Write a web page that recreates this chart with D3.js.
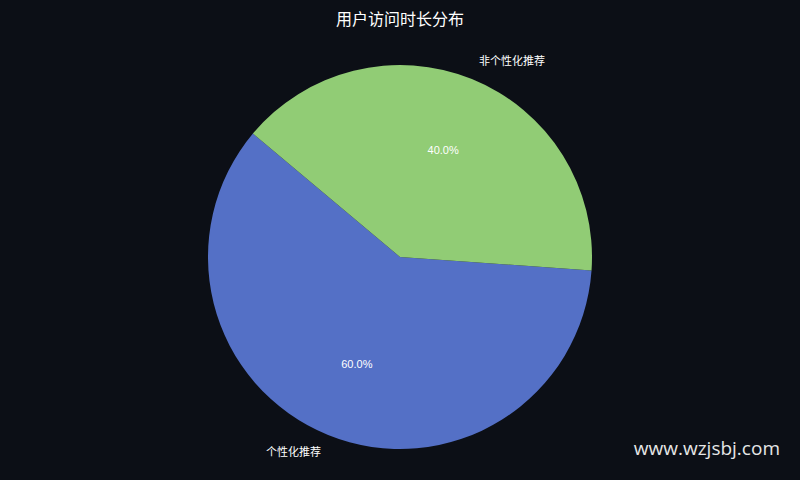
<!DOCTYPE html>
<html>
<head>
<meta charset="utf-8">
<script src="https://cdn.jsdelivr.net/npm/d3@7"></script>
<style>
  html, body { margin: 0; padding: 0; background: #0c0f16; }
  svg { display: block; }
</style>
</head>
<body>
<div class="chart"></div>
<script>
const categories = ["个性化推荐", "非个性化推荐"];
const values = [60, 40];
const colors = ["#5470c6", "#91cc75"];
const title = "用户访问时长分布";

const w = 800;
const h = 480;
const cx = 400;
const cy = 257;
const radius = 192;

const svg = d3
  .select(".chart")
  .append("svg")
  .attr("width", w)
  .attr("height", h);

svg
  .append("rect")
  .attr("width", w)
  .attr("height", h)
  .attr("fill", "#0c0f16");

svg
  .append("text")
  .attr("x", w / 2)
  .attr("y", 18)
  .attr("text-anchor", "middle")
  .attr("dominant-baseline", "central")
  .attr("fill", "#ffffff")
  .style("font-family", "'Noto Sans CJK SC', sans-serif")
  .style("font-size", "16px")
  .text(title);

// start at 140deg and go counter-clockwise (matplotlib style)
const startDeg = 90 - 140;
const pie = d3
  .pie()
  .sort(null)
  .value((d) => d)
  .startAngle((startDeg * Math.PI) / 180)
  .endAngle(((startDeg - 360) * Math.PI) / 180);

const arcs = pie(values);
const arc = d3.arc().innerRadius(0).outerRadius(radius);

const g = svg.append("g").attr("transform", "translate(" + cx + "," + cy + ")");

g.selectAll("path")
  .data(arcs)
  .enter()
  .append("path")
  .attr("d", arc)
  .attr("fill", (d, i) => colors[i]);

const total = d3.sum(values);

function midPoint(d, r) {
  const a = (d.startAngle + d.endAngle) / 2;
  return [Math.sin(a) * r, -Math.cos(a) * r];
}

g.selectAll("text.pct")
  .data(arcs)
  .enter()
  .append("text")
  .attr("class", "pct")
  .attr("x", (d) => midPoint(d, radius * 0.6)[0])
  .attr("y", (d) => midPoint(d, radius * 0.6)[1])
  .attr("text-anchor", "middle")
  .attr("dominant-baseline", "central")
  .attr("fill", "#ffffff")
  .style("font-family", "'Liberation Sans', Arial, sans-serif")
  .style("font-size", "11px")
  .text((d) => ((d.value / total) * 100).toFixed(1) + "%");

g.selectAll("text.lbl")
  .data(arcs)
  .enter()
  .append("text")
  .attr("class", "lbl")
  .attr("x", (d) => midPoint(d, radius * 1.1)[0])
  .attr("y", (d) => midPoint(d, radius * 1.1)[1] - 1.5)
  .attr("text-anchor", (d) => (midPoint(d, 1)[0] > 0 ? "start" : "end"))
  .attr("dominant-baseline", "central")
  .attr("fill", "#ffffff")
  .style("font-family", "'Noto Sans CJK SC', sans-serif")
  .style("font-size", "11px")
  .text((d, i) => categories[i]);

svg
  .append("text")
  .attr("x", 780)
  .attr("y", 448)
  .attr("text-anchor", "end")
  .attr("dominant-baseline", "central")
  .attr("fill", "#e6e6e6")
  .style("font-family", "'Open Sans', sans-serif")
  .style("font-size", "19px")
  .text("www.wzjsbj.com");
</script>
</body>
</html>
